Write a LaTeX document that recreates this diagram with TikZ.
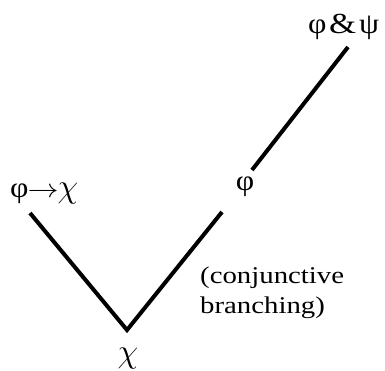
\documentclass[tikz,border=0pt]{standalone}
\usepackage{graphicx}
\usepackage{fontspec}
\setmainfont{Liberation Serif}
\newfontfamily\widefont[FakeStretch=1.2]{Liberation Serif}
\newfontfamily\grkfont[FakeStretch=1.1]{Liberation Serif}
\newcommand{\gk}[1]{{\grkfont\fontsize{29}{30}\selectfont #1}}
\newcommand{\gchi}{\scalebox{1.35}[1.35]{$\chi$}}
\newcommand{\garr}{\scalebox{1.25}[1.05]{$\rightarrow$}}
\begin{document}
\begin{tikzpicture}[x=1pt,y=-1pt,
  lbl/.style={inner sep=0pt, font=\widefont\fontsize{24}{30}\selectfont},
  arm/.style={line width=4pt, line join=miter, line cap=butt}]
\useasboundingbox (0,0) rectangle (385,371);
\node[lbl, anchor=base west] (phipsi) at (308,34) {\gk{φ}\kern2.5pt{\fontsize{29}{30}\selectfont\&}\kern3pt\gk{ψ}};
\node[lbl, anchor=base west] (imp) at (10,198) {\gk{φ}\kern-1pt\garr\kern-1pt\gchi};
\node[lbl, anchor=base] (phi) at (245,191) {\gk{φ}};
\node[lbl, anchor=base] (chi) at (128,362) {\gchi};
\node[lbl, anchor=base west, align=left] (note) at (200,313) {(conjunctive\\branching)};
\coordinate (psitop) at (348,47);
\coordinate (phibot) at (252,170);
\coordinate (phidown) at (222,212);
\coordinate (impdown) at (30,213);
\coordinate (vertex) at (127,330);
\draw[arm] (psitop) -- (phibot);
\draw[arm] (impdown) -- (vertex) -- (phidown);
\end{tikzpicture}
\end{document}
